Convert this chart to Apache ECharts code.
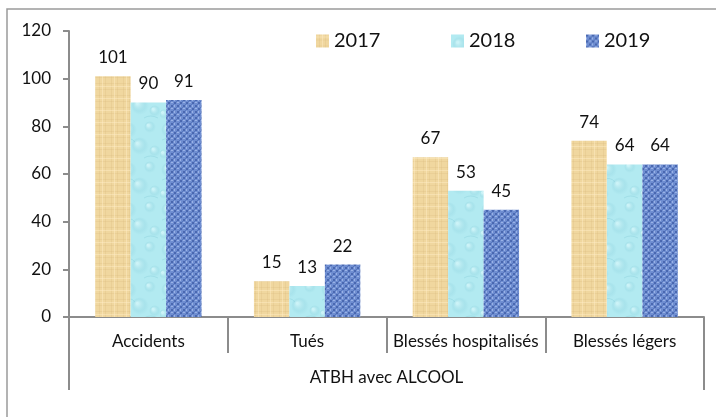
<!DOCTYPE html>
<html>
<head>
<meta charset="utf-8">
<script src="https://cdn.jsdelivr.net/npm/echarts@6/dist/echarts.min.js"></script>
<style>
  html, body { margin: 0; padding: 0; background: #fff; }
  #chart { width: 716px; height: 417px; }
</style>
</head>
<body>
<div id="chart"></div>
<script>
// Data
const categories = ['Accidents', 'Tués', 'Blessés hospitalisés', 'Blessés légers'];
const groupLabel = ['ATBH avec ALCOOL'];
const years = ['2017', '2018', '2019'];
const values2017 = [101, 15, 67, 74];
const values2018 = [90, 13, 53, 64];
const values2019 = [91, 22, 45, 64];
const yMin = 0, yMax = 120, yStep = 20;

// Texture fills for the bars (deterministic tiles)
function makeTile(size, draw) {
  const c = document.createElement('canvas');
  c.width = size; c.height = size;
  draw(c.getContext('2d'), size);
  return c;
}

// Sand / parchment texture
const sandTile = makeTile(12, (g, s) => {
  g.fillStyle = '#f0d79f';
  g.fillRect(0, 0, s, s);
  g.fillStyle = 'rgba(214,182,120,0.22)';
  g.fillRect(0, 5, s, 1);
  g.fillRect(0, 11, s, 1);
  g.fillRect(3, 0, 1, s);
  g.fillRect(9, 0, 1, s);
  g.fillStyle = 'rgba(255,238,200,0.45)';
  g.fillRect(0, 2, s, 1);
  g.fillRect(6, 0, 1, s);
});

// Water-drop texture
const waterTile = makeTile(40, (g, s) => {
  g.fillStyle = '#b2eaf1';
  g.fillRect(0, 0, s, s);
  const drops = [[9, 10, 8], [30, 7, 6], [20, 26, 9], [4, 34, 5], [35, 31, 6]];
  drops.forEach(([x, y, r]) => {
    const grd = g.createRadialGradient(x - r * 0.3, y - r * 0.3, 1, x, y, r);
    grd.addColorStop(0, 'rgba(215,247,250,0.7)');
    grd.addColorStop(0.65, 'rgba(150,215,226,0.35)');
    grd.addColorStop(1, 'rgba(150,215,226,0.0)');
    g.fillStyle = grd;
    g.beginPath();
    g.arc(x, y, r, 0, Math.PI * 2);
    g.fill();
  });
  g.strokeStyle = 'rgba(120,195,210,0.3)';
  g.lineWidth = 1;
  g.beginPath();
  g.moveTo(2, 20); g.quadraticCurveTo(10, 16, 15, 22);
  g.moveTo(24, 38); g.quadraticCurveTo(30, 34, 38, 38);
  g.stroke();
});

// Denim / woven texture
const denimTile = makeTile(6, (g, s) => {
  g.fillStyle = '#6f8ed1';
  g.fillRect(0, 0, s, s);
  g.fillStyle = '#4a68b0';
  g.fillRect(0, 0, 2, 2);
  g.fillRect(3, 3, 2, 2);
  g.fillStyle = '#9ab2e6';
  g.fillRect(3, 0, 2, 1);
  g.fillRect(0, 3, 1, 2);
  g.fillStyle = '#5878bf';
  g.fillRect(2, 5, 1, 1);
  g.fillRect(5, 2, 1, 1);
});

const fills = [
  { image: sandTile, repeat: 'repeat' },
  { image: waterTile, repeat: 'repeat' },
  { image: denimTile, repeat: 'repeat' }
];
const seriesValues = [values2017, values2018, values2019];

const FONT = 'Lato, "Open Sans", sans-serif';
const AXIS_GREY = '#8c8c8c';
const TEXT = '#111';

const chart = echarts.init(document.getElementById('chart'), null, { renderer: 'canvas' });

const legendLefts = [316, 451, 586];

chart.setOption({
  animation: false,
  backgroundColor: '#ffffff',
  textStyle: { fontFamily: FONT },
  graphic: [{
    type: 'rect',
    shape: { x: 7, y: 9, width: 740, height: 440 },
    style: { fill: 'none', stroke: '#9a9a9a', lineWidth: 1.5 },
    silent: true,
    z: 0
  }],
  legend: years.map((y, i) => ({
    data: [y],
    left: legendLefts[i],
    top: 31,
    padding: 0,
    itemWidth: 13,
    itemHeight: 13,
    itemGap: 6,
    icon: 'rect',
    textStyle: { fontFamily: FONT, fontSize: 20, color: TEXT }
  })),
  grid: { left: 69, right: 12, top: 31, bottom: 100, containLabel: false },
  xAxis: [{
    type: 'category',
    data: categories,
    position: 'bottom',
    axisLine: { lineStyle: { color: AXIS_GREY, width: 2 } },
    axisTick: { show: true, length: 36, inside: false, alignWithLabel: false, interval: 0,
                lineStyle: { color: AXIS_GREY, width: 2 } },
    axisLabel: { interval: 0, margin: 16, fontFamily: FONT, fontSize: 17, color: TEXT },
    splitLine: { show: false }
  }, {
    type: 'category',
    data: groupLabel,
    position: 'bottom',
    offset: 36,
    axisLine: { show: false },
    axisTick: { show: true, length: 37, interval: 0, alignWithLabel: false,
                lineStyle: { color: AXIS_GREY, width: 2 } },
    axisLabel: { interval: 0, margin: 16, fontFamily: FONT, fontSize: 17, color: TEXT },
    splitLine: { show: false }
  }],
  yAxis: {
    type: 'value',
    min: yMin,
    max: yMax,
    interval: yStep,
    axisLine: { show: true, lineStyle: { color: AXIS_GREY, width: 2 } },
    axisTick: { show: true, length: 6, lineStyle: { color: AXIS_GREY, width: 2 } },
    axisLabel: { margin: 18, fontFamily: FONT, fontSize: 17, color: TEXT },
    splitLine: { show: false }
  },
  series: years.map((y, i) => ({
    name: y,
    type: 'bar',
    xAxisIndex: 0,
    data: seriesValues[i],
    barGap: '0%',
    barCategoryGap: '33%',
    itemStyle: { color: fills[i] },
    label: {
      show: true,
      position: 'top',
      distance: 10,
      fontFamily: FONT,
      fontSize: 17,
      color: TEXT
    }
  }))
});
</script>
</body>
</html>
